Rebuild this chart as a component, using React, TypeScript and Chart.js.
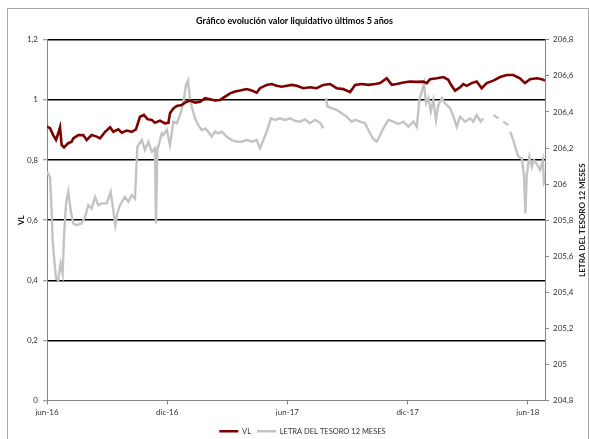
import { useEffect, useRef } from "react";
import { Chart, registerables } from "chart.js";

Chart.register(...registerables);

const FONT = "Lato, 'Liberation Sans', sans-serif";

const chartTitle = "Gráfico evolución valor liquidativo últimos 5 años";
const leftTitle = "VL";
const rightTitle = "LETRA DEL TESORO 12 MESES";
const seriesNames = ["VL", "LETRA DEL TESORO 12 MESES"];

// x in months since jun-16
const xTickMonths = [0, 6, 12, 18, 24];
const xTickLabels = ["jun-16", "dic-16", "jun-17", "dic-17", "jun-18"];
const xMax = 24.86;

const vlTicks = [0, 0.2, 0.4, 0.6, 0.8, 1, 1.2];
const letraTicks = [204.8, 205, 205.2, 205.4, 205.6, 205.8, 206, 206.2, 206.4, 206.6, 206.8];

const vlMonths = [
  0.0, 0.15, 0.31, 0.45, 0.56, 0.65, 0.73, 0.85, 1.06, 1.23, 1.31, 1.56, 1.81, 1.98, 2.23, 2.48,
  2.65, 2.9, 3.15, 3.31, 3.56, 3.73, 3.98, 4.23, 4.44, 4.64, 4.84, 5.01, 5.23, 5.39, 5.64, 5.89,
  6.06, 6.14, 6.31, 6.48, 6.72, 6.89, 7.14, 7.39, 7.64, 7.89, 8.14, 8.39, 8.64, 8.89, 9.14, 9.39,
  9.64, 9.97, 10.22, 10.47, 10.63, 10.97, 11.22, 11.47, 11.72, 11.97, 12.22, 12.47, 12.8, 13.13,
  13.46, 13.79, 14.13, 14.46, 14.79, 15.13, 15.38, 15.71, 16.04, 16.38, 16.63, 16.96, 17.21, 17.46,
  17.79, 18.12, 18.46, 18.79, 18.96, 19.12, 19.46, 19.79, 20.03, 20.2, 20.37, 20.62, 20.78, 20.95,
  21.2, 21.45, 21.7, 21.95, 22.28, 22.62, 22.95, 23.28, 23.61, 23.86, 24.11, 24.45, 24.7, 24.86,
];
const vlValues = [
  0.911, 0.906, 0.883, 0.867, 0.889, 0.909, 0.85, 0.842, 0.856, 0.861, 0.872, 0.883, 0.883, 0.867,
  0.883, 0.878, 0.872, 0.894, 0.909, 0.894, 0.902, 0.891, 0.898, 0.894, 0.902, 0.944, 0.95, 0.936,
  0.933, 0.924, 0.931, 0.922, 0.924, 0.956, 0.972, 0.98, 0.983, 0.991, 0.998, 0.991, 0.994, 1.006,
  1.002, 0.998, 1.0, 1.011, 1.022, 1.028, 1.031, 1.036, 1.031, 1.024, 1.039, 1.05, 1.053, 1.047,
  1.044, 1.047, 1.05, 1.047, 1.039, 1.042, 1.039, 1.05, 1.053, 1.039, 1.036, 1.026, 1.05, 1.053,
  1.05, 1.053, 1.056, 1.072, 1.05, 1.053, 1.058, 1.061, 1.06, 1.061, 1.056, 1.069, 1.072, 1.076,
  1.067, 1.047, 1.031, 1.042, 1.053, 1.047, 1.056, 1.061, 1.039, 1.056, 1.064, 1.076, 1.083, 1.083,
  1.072, 1.056, 1.069, 1.072, 1.069, 1.064,
];

const letraMonths = [
  0.0, 0.15, 0.23, 0.28, 0.35, 0.45, 0.56, 0.68, 0.78, 0.85, 0.95, 1.06, 1.18, 1.31, 1.48, 1.73,
  1.9, 2.06, 2.23, 2.4, 2.56, 2.73, 2.98, 3.18, 3.31, 3.41, 3.51, 3.64, 3.89, 4.06, 4.23, 4.39,
  4.51, 4.73, 4.89, 5.06, 5.23, 5.39, 5.44, 5.51, 5.73, 5.81, 5.98, 6.14, 6.31, 6.48, 6.64, 6.8,
  6.94, 7.04, 7.14, 7.27, 7.39, 7.55, 7.72, 7.89, 8.05, 8.22, 8.39, 8.55, 8.72, 8.97, 9.22, 9.47,
  9.72, 9.97, 10.22, 10.47, 10.63, 10.8, 10.97, 11.18, 11.38, 11.63, 11.88, 12.13, 12.38, 12.63,
  12.88, 13.13, 13.38, 13.63, 13.79, 13.86, 13.93, 14.0, 14.21, 14.46, 14.71, 14.96, 15.21, 15.38,
  15.63, 15.88, 16.04, 16.26, 16.46, 16.63, 16.79, 17.04, 17.29, 17.54, 17.79, 18.04, 18.29, 18.46,
  18.59, 18.71, 18.82, 18.92, 19.04, 19.16, 19.29, 19.42, 19.54, 19.71, 19.87, 20.12, 20.32, 20.45,
  20.62, 20.87, 21.12, 21.28, 21.45, 21.65, 21.78, 21.9, 22.03, 22.15, 22.28, 22.53, 22.65, 22.78,
  23.04, 23.08, 23.12, 23.28, 23.42, 23.53, 23.7, 23.81, 23.88, 23.95, 24.08, 24.2, 24.31, 24.48,
  24.61, 24.75, 24.81, 24.86,
];
const letraValues = [
  206.068, 206.04, 205.856, 205.689, 205.596, 205.476, 205.467, 205.559, 205.504, 205.707, 205.893,
  205.957, 205.856, 205.782, 205.772, 205.782, 205.818, 205.883, 205.865, 205.929, 205.883, 205.893,
  205.893, 205.957, 205.856, 205.772, 205.837, 205.883, 205.929, 205.902, 205.939, 205.92, 206.207,
  206.244, 206.189, 206.235, 206.179, 206.198, 205.782, 206.189, 206.281, 206.272, 206.3, 206.217,
  206.346, 206.337, 206.383, 206.448, 206.55, 206.574, 206.467, 206.411, 206.365, 206.328, 206.3,
  206.309, 206.291, 206.263, 206.291, 206.281, 206.291, 206.263, 206.244, 206.235, 206.235, 206.244,
  206.235, 206.244, 206.198, 206.244, 206.291, 206.365, 206.356, 206.365, 206.356, 206.365, 206.35,
  206.346, 206.359, 206.337, 206.356, 206.341, 206.309, null, 206.476, 206.43, 206.421, 206.411,
  206.393, 206.374, 206.346, 206.356, 206.346, 206.337, 206.3, 206.254, 206.235, 206.272, 206.309,
  206.356, 206.346, 206.333, 206.346, 206.318, 206.346, 206.318, 206.467, 206.513, 206.559, 206.448,
  206.476, 206.402, 206.467, 206.356, 206.439, 206.476, 206.448, 206.421, 206.365, 206.318, 206.374,
  206.346, 206.365, 206.346, 206.383, 206.346, 206.365, null, 206.356, null, 206.383, 206.365, null,
  206.346, 206.328, null, 206.291, 206.244, 206.189, 206.152, 206.143, 206.05, 205.837, 206.05,
  206.152, 206.096, 206.133, 206.106, 206.078, 206.133, 206.004, 206.013,
];

const fmt = (v: number) => String(Math.round(v * 10) / 10).replace(".", ",");
const AXIS = "#868686";
const TEXT = "#333333";

const customPlugin = {
  id: "custom",
  afterLayout(chart: any) {
    const lg = chart.legend;
    if (lg) {
      lg.left += 8;
      lg.right += 8;
      lg.top += 6;
      lg.bottom += 6;
    }
  },
  afterDraw(chart: any) {
    const s = chart.scales.y1;
    const ctx = chart.ctx;
    ctx.save();
    ctx.translate(s.right - 7, (chart.chartArea.top + chart.chartArea.bottom) / 2);
    ctx.rotate(-Math.PI / 2);
    ctx.font = `bold 8px ${FONT}`;
    ctx.fillStyle = "#1a1a1a";
    ctx.textAlign = "center";
    ctx.textBaseline = "middle";
    ctx.fillText(rightTitle, 0, 0);
    ctx.restore();
  },
};

export default function App() {
  const ref = useRef<HTMLCanvasElement>(null);
  useEffect(() => {
    document.body.style.margin = "0";
    document.body.style.overflow = "hidden";
    const chart = new Chart(ref.current!, {
      type: "line",
      data: {
        datasets: [
          {
            label: seriesNames[0],
            data: vlMonths.map((m, i) => ({ x: m, y: vlValues[i] })),
            borderColor: "#800000",
            backgroundColor: "#800000",
            borderWidth: 2.6,
            pointRadius: 0,
            yAxisID: "y",
          },
          {
            label: seriesNames[1],
            data: letraMonths.map((m, i) => ({ x: m, y: letraValues[i] as any })),
            borderColor: "#c3c3c3",
            backgroundColor: "#c3c3c3",
            borderWidth: 2.4,
            pointRadius: 0,
            spanGaps: false,
            yAxisID: "y1",
          },
        ],
      },
      options: {
        animation: false,
        responsive: false,
        maintainAspectRatio: false,
        layout: { padding: 0 },
        plugins: {
          tooltip: { enabled: false },
          title: {
            display: true,
            text: chartTitle,
            color: "#000",
            font: { family: FONT, size: 9, weight: "bold" },
            padding: { top: 16, bottom: 13 },
          },
          legend: {
            position: "bottom",
            labels: {
              usePointStyle: true,
              pointStyle: "line",
              pointStyleWidth: 19,
              padding: 6,
              color: TEXT,
              font: { family: FONT, size: 7.5 },
            },
          },
        },
        scales: {
          x: {
            type: "linear",
            min: 0,
            max: xMax,
            afterBuildTicks: (s: any) => {
              s.ticks = xTickMonths.map((v) => ({ value: v }));
            },
            afterFit: (s: any) => {
              s.height = 15;
            },
            ticks: {
              autoSkip: false,
              maxRotation: 0,
              padding: 3,
              color: TEXT,
              font: { family: FONT, size: 8 },
              callback: (v: any) => {
                const i = xTickMonths.indexOf(Number(v));
                return i >= 0 ? xTickLabels[i] : "";
              },
            },
            grid: {
              drawOnChartArea: false,
              drawTicks: true,
              tickLength: 4,
              tickWidth: 1,
              color: AXIS,
            },
            border: { display: true, color: AXIS, width: 1 },
          },
          y: {
            position: "left",
            min: 0,
            max: 1.2,
            afterBuildTicks: (s: any) => {
              s.ticks = vlTicks.map((v) => ({ value: v }));
            },
            afterFit: (s: any) => {
              s.width = 47;
            },
            ticks: {
              padding: 5,
              color: TEXT,
              font: { family: FONT, size: 8 },
              callback: (v: any) => fmt(Number(v)),
            },
            title: {
              display: true,
              text: leftTitle,
              color: "#000",
              font: { family: FONT, size: 8, weight: "bold" },
              padding: { top: 17, bottom: 0 },
            },
            grid: {
              color: (c: any) => (c.tick && c.tick.value === 0 ? "rgba(0,0,0,0)" : "#000"),
              lineWidth: 1.5,
              drawTicks: true,
              tickLength: 4,
              tickWidth: 1,
              tickColor: AXIS,
            },
            border: { display: true, color: AXIS, width: 1 },
          },
          y1: {
            position: "right",
            min: 204.8,
            max: 206.8,
            afterBuildTicks: (s: any) => {
              s.ticks = letraTicks.map((v) => ({ value: v }));
            },
            afterFit: (s: any) => {
              s.width = 44;
            },
            ticks: {
              padding: 4,
              color: TEXT,
              font: { family: FONT, size: 8 },
              callback: (v: any) => fmt(Number(v)),
            },
            grid: {
              drawOnChartArea: false,
              drawTicks: true,
              tickLength: 4,
              tickWidth: 1,
              color: AXIS,
            },
            border: { display: true, color: AXIS, width: 1 },
          },
        },
      },
      plugins: [customPlugin],
    } as any);
    return () => chart.destroy();
  }, []);

  return (
    <div
      style={{
        position: "fixed",
        left: 0,
        top: 0,
        width: 589,
        height: 439,
        overflow: "hidden",
        background: "#fff",
      }}
    >
      <div
        style={{
          position: "absolute",
          left: 7,
          top: 8,
          width: 580,
          height: 450,
          border: "1px solid #a6a6a6",
        }}
      />
      <canvas
        ref={ref}
        width={589}
        height={439}
        style={{ position: "absolute", left: 0, top: 0, width: 589, height: 439 }}
      />
    </div>
  );
}
